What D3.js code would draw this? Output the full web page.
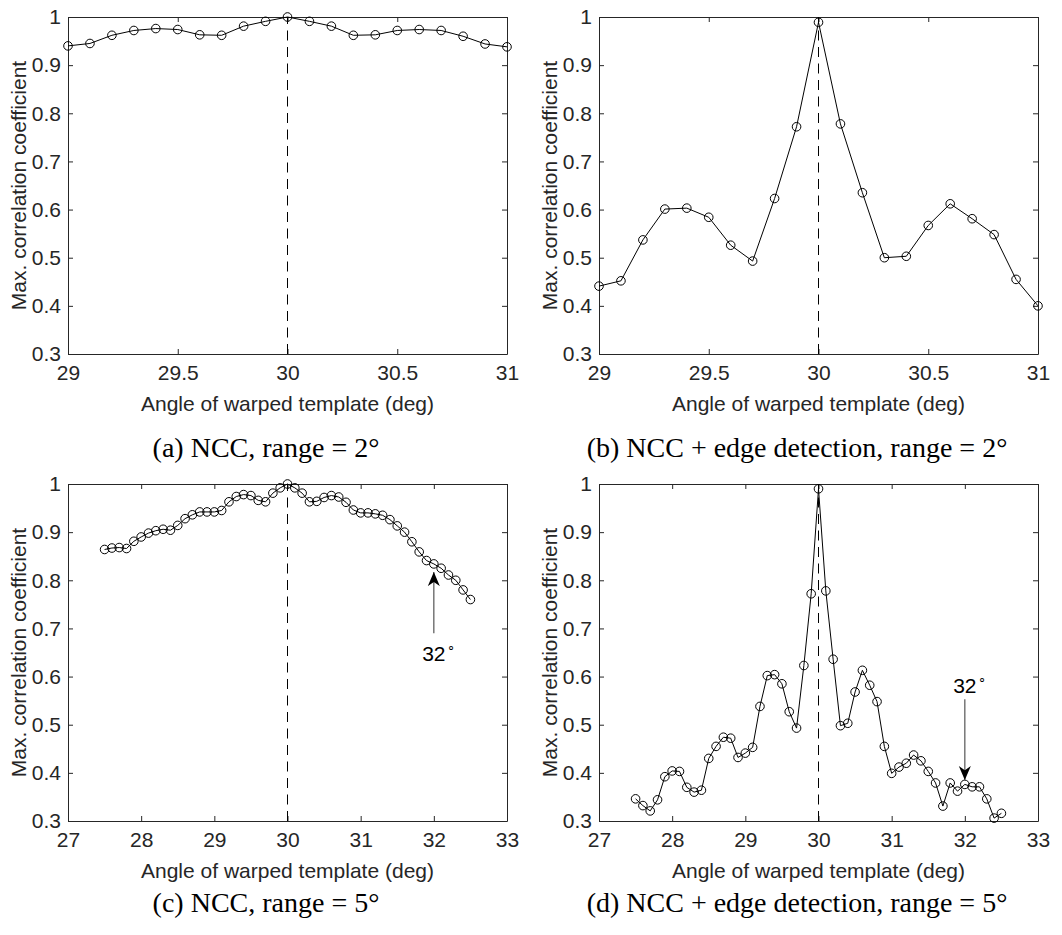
<!DOCTYPE html>
<html>
<head>
<meta charset="utf-8">
<script src="https://cdn.jsdelivr.net/npm/d3@7"></script>
<style>
  body { margin: 0; background: #fff; }
  svg { display: block; }
</style>
</head>
<body>
<div id="figure"></div>
<script>
// Angles (deg) of the warped template, narrow and wide sweeps.
const anglesNarrow = [29.0, 29.1, 29.2, 29.3, 29.4, 29.5, 29.6, 29.7, 29.8, 29.9, 30.0,
  30.1, 30.2, 30.3, 30.4, 30.5, 30.6, 30.7, 30.8, 30.9, 31.0];

const anglesWide = [27.5, 27.6, 27.7, 27.8, 27.9, 28.0, 28.1, 28.2, 28.3, 28.4, 28.5,
  28.6, 28.7, 28.8, 28.9, 29.0, 29.1, 29.2, 29.3, 29.4, 29.5, 29.6, 29.7, 29.8, 29.9,
  30.0, 30.1, 30.2, 30.3, 30.4, 30.5, 30.6, 30.7, 30.8, 30.9, 31.0, 31.1, 31.2, 31.3,
  31.4, 31.5, 31.6, 31.7, 31.8, 31.9, 32.0, 32.1, 32.2, 32.3, 32.4, 32.5];

// Max. correlation coefficient.
const nccNarrow = [0.940, 0.945, 0.962, 0.972, 0.976, 0.974, 0.963, 0.962, 0.981, 0.991, 1.000,
  0.991, 0.981, 0.962, 0.963, 0.972, 0.974, 0.972, 0.960, 0.944, 0.938];

const edgeNarrow = [0.441, 0.452, 0.537, 0.601, 0.603, 0.584, 0.526, 0.493, 0.623, 0.772, 0.989,
  0.778, 0.635, 0.500, 0.503, 0.567, 0.612, 0.581, 0.548, 0.455, 0.400];

const nccWide = [0.864, 0.867, 0.868, 0.866, 0.881, 0.890, 0.898, 0.903, 0.906, 0.904, 0.914,
  0.928, 0.936, 0.942, 0.942, 0.942, 0.945, 0.963, 0.974, 0.978, 0.976, 0.966, 0.963, 0.981,
  0.992, 1.000, 0.992, 0.981, 0.963, 0.964, 0.972, 0.976, 0.973, 0.962, 0.946, 0.940, 0.940,
  0.938, 0.935, 0.926, 0.913, 0.900, 0.880, 0.859, 0.841, 0.834, 0.825, 0.811, 0.800, 0.780,
  0.760];

const edgeWide = [0.346, 0.332, 0.321, 0.344, 0.392, 0.404, 0.403, 0.370, 0.360, 0.364, 0.430,
  0.455, 0.474, 0.472, 0.432, 0.441, 0.453, 0.538, 0.602, 0.604, 0.585, 0.527, 0.493, 0.623,
  0.772, 0.990, 0.778, 0.636, 0.498, 0.503, 0.568, 0.613, 0.582, 0.548, 0.455, 0.399, 0.412,
  0.420, 0.437, 0.425, 0.403, 0.379, 0.331, 0.379, 0.362, 0.376, 0.371, 0.371, 0.346, 0.306,
  0.316];

const ticksNarrow = [29, 29.5, 30, 30.5, 31];
const ticksWide = [27, 28, 29, 30, 31, 32, 33];
const ticksY = [0.3, 0.4, 0.5, 0.6, 0.7, 0.8, 0.9, 1];

const trueAngle = 30;

const captions = [
  '(a) NCC, range = 2°',
  '(b) NCC + edge detection, range = 2°',
  '(c) NCC, range = 5°',
  '(d) NCC + edge detection, range = 5°',
];

// Arrow annotations marking 32 deg: [angle, tail value, tip value, label value].
const arrowNcc = [32, 0.690, 0.817, 0.632];
const arrowEdge = [32, 0.553, 0.385, 0.566];

const width = 1062;
const height = 935;
const plotW = 439;
const plotH = 337;
const axisColor = '#262626';
const sansFont = '"Liberation Sans", Arial, Helvetica, sans-serif';
const serifFont = '"Liberation Serif", "Times New Roman", serif';

const panels = [
  {left: 68, top: 17, domain: [29, 31], ticks: ticksNarrow, xs: anglesNarrow, ys: nccNarrow,
    caption: captions[0], cx: 266, capY: 457, arrow: null},
  {left: 599, top: 17, domain: [29, 31], ticks: ticksNarrow, xs: anglesNarrow, ys: edgeNarrow,
    caption: captions[1], cx: 797, capY: 457, arrow: null},
  {left: 68, top: 484, domain: [27, 33], ticks: ticksWide, xs: anglesWide, ys: nccWide,
    caption: captions[2], cx: 266, capY: 912, arrow: arrowNcc},
  {left: 599, top: 484, domain: [27, 33], ticks: ticksWide, xs: anglesWide, ys: edgeWide,
    caption: captions[3], cx: 797, capY: 912, arrow: arrowEdge},
];

const svg = d3.select('#figure')
  .append('svg')
  .attr('width', width)
  .attr('height', height)
  .attr('viewBox', [0, 0, width, height]);

svg.append('defs')
  .append('marker')
  .attr('id', 'head')
  .attr('viewBox', '0 -5 10 10')
  .attr('refX', 10)
  .attr('refY', 0)
  .attr('markerUnits', 'userSpaceOnUse')
  .attr('markerWidth', 14)
  .attr('markerHeight', 14)
  .attr('orient', 'auto')
  .append('path')
  .attr('d', 'M0,-4.3L10,0L0,4.3L3,0Z')
  .attr('fill', '#000');

const fmtY = d3.format('~g');

function drawPanel(p) {
  const g = svg.append('g')
    .attr('transform', `translate(${p.left},${p.top})`);

  const x = d3.scaleLinear().domain(p.domain).range([0, plotW]);
  const y = d3.scaleLinear().domain([0.3, 1]).range([plotH, 0]);

  const styleAxis = a => a
    .call(a => a.select('.domain').attr('stroke', axisColor))
    .call(a => a.selectAll('.tick line').attr('stroke', axisColor))
    .call(a => a.selectAll('text')
      .attr('fill', axisColor)
      .style('font', `21px ${sansFont}`));

  // Box with inward ticks on all four sides.
  g.append('g')
    .attr('transform', `translate(0,${plotH})`)
    .call(d3.axisBottom(x).tickValues(p.ticks).tickSizeInner(-5).tickSizeOuter(0)
      .tickPadding(11).tickFormat(d3.format('~g')))
    .call(styleAxis);

  g.append('g')
    .call(d3.axisTop(x).tickValues(p.ticks).tickSizeInner(-5).tickSizeOuter(0)
      .tickFormat(''))
    .call(styleAxis);

  g.append('g')
    .call(d3.axisLeft(y).tickValues(ticksY).tickSizeInner(-5).tickSizeOuter(0)
      .tickPadding(7).tickFormat(fmtY))
    .call(styleAxis);

  g.append('g')
    .attr('transform', `translate(${plotW},0)`)
    .call(d3.axisRight(y).tickValues(ticksY).tickSizeInner(-5).tickSizeOuter(0)
      .tickFormat(''))
    .call(styleAxis);

  // Dashed line at the true angle.
  g.append('line')
    .attr('x1', x(trueAngle))
    .attr('x2', x(trueAngle))
    .attr('y1', y(0.3))
    .attr('y2', y(1))
    .attr('stroke', '#000')
    .attr('stroke-width', 1)
    .attr('stroke-dasharray', '10,6.5');

  const pts = p.xs.map((a, i) => [a, p.ys[i]]);

  g.append('path')
    .datum(pts)
    .attr('fill', 'none')
    .attr('stroke', '#000')
    .attr('stroke-width', 1)
    .attr('d', d3.line().x(d => x(d[0])).y(d => y(d[1])));

  g.append('g')
    .attr('fill', 'none')
    .attr('stroke', '#000')
    .attr('stroke-width', 1)
    .selectAll('circle')
    .data(pts)
    .join('circle')
    .attr('cx', d => x(d[0]))
    .attr('cy', d => y(d[1]))
    .attr('r', 4.3);

  if (p.arrow) {
    const [ax, tail, tip, labelY] = p.arrow;
    g.append('line')
      .attr('x1', x(ax))
      .attr('x2', x(ax))
      .attr('y1', y(tail))
      .attr('y2', y(tip))
      .attr('stroke', '#555')
      .attr('stroke-width', 1.2)
      .attr('marker-end', 'url(#head)');

    g.append('text')
      .attr('x', x(ax))
      .attr('y', y(labelY))
      .attr('text-anchor', 'middle')
      .attr('fill', '#000')
      .style('font', `21px ${sansFont}`)
      .text(ax);

    g.append('text')
      .attr('x', x(ax) + 13)
      .attr('y', y(labelY) - 10)
      .attr('fill', '#000')
      .style('font', `13px ${sansFont}`)
      .text('∘');
  }

  // Axis titles.
  g.append('text')
    .attr('x', plotW / 2)
    .attr('y', plotH + 57)
    .attr('text-anchor', 'middle')
    .attr('fill', axisColor)
    .style('font', `21px ${sansFont}`)
    .text('Angle of warped template (deg)');

  g.append('text')
    .attr('transform', `translate(${18 - p.left + (p.left > 300 ? 531 : 0)},${plotH / 2}) rotate(-90)`)
    .attr('text-anchor', 'middle')
    .attr('dominant-baseline', 'central')
    .attr('fill', axisColor)
    .style('font', `21px ${sansFont}`)
    .text('Max. correlation coefficient');

  // Sub-figure caption.
  svg.append('text')
    .attr('x', p.cx)
    .attr('y', p.capY)
    .attr('text-anchor', 'middle')
    .attr('fill', '#000')
    .style('font', `28px ${serifFont}`)
    .text(p.caption);
}

panels.forEach(drawPanel);
</script>
</body>
</html>
